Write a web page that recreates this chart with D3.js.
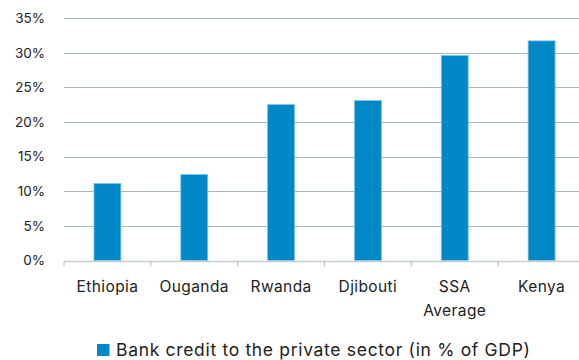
<!DOCTYPE html>
<html>
<head>
<meta charset="utf-8">
<script src="https://cdn.jsdelivr.net/npm/d3@7"></script>
<style>
  html, body { margin: 0; padding: 0; background: #fff; }
  svg { display: block; font-family: "Inter", "Open Sans", sans-serif; }
</style>
</head>
<body>
<svg id="chart" width="579" height="360"></svg>
<script>
// Bank credit to the private sector, % of GDP
const categories = ["Ethiopia", "Ouganda", "Rwanda", "Djibouti", "SSA\nAverage", "Kenya"];
const creditValues = [11.1, 12.4, 22.5, 23.1, 29.6, 31.7];
const yTicks = [0, 5, 10, 15, 20, 25, 30, 35];
const seriesName = "Bank credit to the private sector (in % of GDP)";

const svg = d3.select("#chart");
const margin = { left: 64, right: -6, top: 18, bottom: 99.5 };
const W = 579, H = 360;

const x = d3.scaleBand()
  .domain(categories)
  .range([margin.left, W - margin.right])
  .paddingInner(0.69)
  .paddingOuter(0.345);

const y = d3.scaleLinear()
  .domain([0, 35])
  .range([H - margin.bottom, margin.top]);

// horizontal gridlines
svg.append("g")
  .selectAll("line")
  .data(yTicks.filter(d => d > 0))
  .join("line")
  .attr("x1", margin.left)
  .attr("x2", W)
  .attr("y1", d => Math.round(y(d)) + 0.5)
  .attr("y2", d => Math.round(y(d)) + 0.5)
  .attr("stroke", "#a9b6be")
  .attr("stroke-width", 1.2);

// y tick labels
svg.append("g")
  .selectAll("text")
  .data(yTicks)
  .join("text")
  .attr("x", 45)
  .attr("y", d => y(d))
  .attr("dy", "0.36em")
  .attr("text-anchor", "end")
  .attr("font-size", 13.5)
  .attr("fill", "#222")
  .text(d => d + "%");

// bars
svg.append("g")
  .selectAll("rect")
  .data(categories.map((c, i) => ({ c, v: creditValues[i] })))
  .join("rect")
  .attr("x", d => x(d.c))
  .attr("y", d => y(d.v))
  .attr("width", x.bandwidth())
  .attr("height", d => y(0) - y(d.v))
  .attr("fill", "#0088c7")
  .attr("stroke", "#7cc3e6")
  .attr("stroke-width", 0.8);

// x axis baseline and tick marks
const axisY = Math.round(y(0)) + 0.5;
svg.append("line")
  .attr("x1", margin.left).attr("x2", W)
  .attr("y1", axisY).attr("y2", axisY)
  .attr("stroke", "#c5ced3").attr("stroke-width", 1.6);

const boundaries = categories.map((c, i) => margin.left + i * (W - margin.right - margin.left) / categories.length);
svg.append("g")
  .selectAll("line")
  .data(boundaries)
  .join("line")
  .attr("x1", d => d).attr("x2", d => d)
  .attr("y1", axisY).attr("y2", axisY + 5)
  .attr("stroke", "#b8c2c8").attr("stroke-width", 1.2);

// category labels (multi-line where needed)
const xl = svg.append("g")
  .selectAll("text")
  .data(categories)
  .join("text")
  .attr("text-anchor", "middle")
  .attr("font-size", 15.5)
  .attr("letter-spacing", 0.4)
  .attr("fill", "#222")
  .attr("x", d => x(d) + x.bandwidth() / 2)
  .attr("y", 292);
xl.each(function(d) {
  const t = d3.select(this);
  d.split("\n").forEach((line, i) => {
    t.append("tspan")
      .attr("x", x(d) + x.bandwidth() / 2)
      .attr("dy", i === 0 ? 0 : 23.5)
      .text(line);
  });
});

// legend
const legend = svg.append("g");
legend.append("rect")
  .attr("x", 97).attr("y", 344)
  .attr("width", 12.5).attr("height", 12)
  .attr("fill", "#0088c7");
legend.append("text")
  .attr("x", 116).attr("y", 356)
  .attr("font-size", 17.5)
  .attr("letter-spacing", 0.68)
  .attr("fill", "#222")
  .text(seriesName);
</script>
</body>
</html>
